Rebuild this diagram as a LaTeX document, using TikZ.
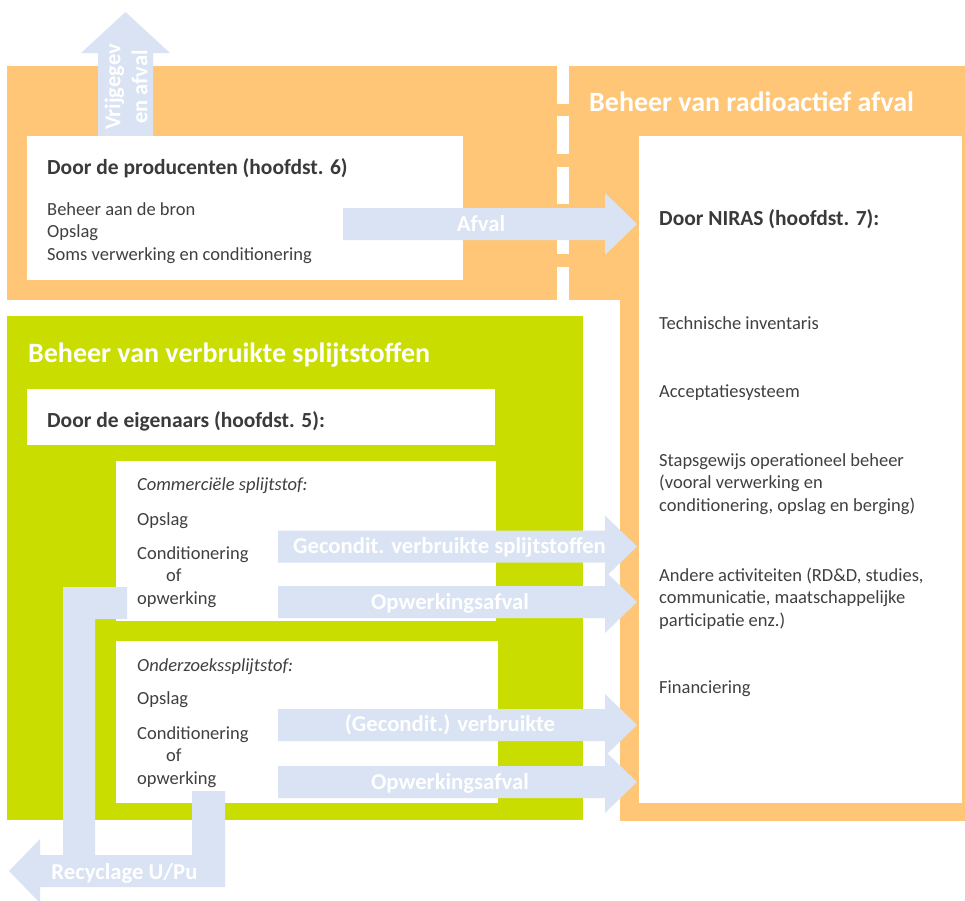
\documentclass[tikz,border=0pt]{standalone}
\usepackage{fontspec}
\setmainfont{Carlito}
\usetikzlibrary{calc}
\definecolor{orangebg}{RGB}{254,198,118}
\definecolor{greenbg}{RGB}{201,221,0}
\definecolor{arrowblue}{RGB}{218,227,243}
\definecolor{txtgray}{RGB}{64,64,64}
\definecolor{headgray}{RGB}{58,58,58}
\newcommand\blockarrowR[2]{%
  \fill[blockfill] let \p1=(#1), \p2=(#2) in
    (\x1,\y1+16pt) -- (\x2-32pt,\y1+16pt) -- (\x2-32pt,\y1+31pt) -- (\x2,\y1)
    -- (\x2-32pt,\y1-31pt) -- (\x2-32pt,\y1-16pt) -- (\x1,\y1-16pt) -- cycle;}
\tikzset{
  box/.style={fill=white, inner sep=0pt, anchor=north west},
  blockfill/.style={fill=arrowblue},
  bodytxt/.style={font=\fontsize{18.5}{22.5}\selectfont, text=txtgray, inner sep=0pt, anchor=base west},
  itbodytxt/.style={bodytxt, font=\fontsize{18.5}{22.5}\selectfont\itshape},
  headtxt/.style={font=\fontsize{21.5}{26}\selectfont\bfseries, text=headgray, inner sep=0pt, anchor=base west},
  titletxt/.style={font=\fontsize{28}{34}\selectfont\bfseries, text=white, inner sep=0pt, anchor=base west},
  labeltxt/.style={font=\fontsize{22.7}{27}\selectfont\bfseries, text=white, inner sep=0pt, anchor=base},
}
\begin{document}
\begin{tikzpicture}[x=1pt,y=-1pt]
\useasboundingbox (0,0) rectangle (965,900);
% background regions
\fill[orangebg] (7,66) rectangle (965,300);
\fill[orangebg] (620,66) rectangle (965,821);
\coordinate (sepTop) at (563,66);
\coordinate (sepBot) at (563,300);
\draw[white, line width=12pt, dash pattern=on 37.5pt off 12.8pt] (sepTop) -- (sepBot);
\fill[greenbg] (7,316) rectangle (583,820);

% upward arrow (vrijgegeven afval)
\coordinate (upS) at (125.5,136);
\coordinate (upT) at (125.5,12);
\fill[blockfill] let \p1=(upS), \p2=(upT) in
  (\x1-27.5pt,\y1) -- (\x1-27.5pt,\y2-41pt) -- (\x1-44.5pt,\y2-41pt) -- (\x2,\y2)
  -- (\x1+44.5pt,\y2-41pt) -- (\x1+27.5pt,\y2-41pt) -- (\x1+27.5pt,\y1) -- cycle;

% white boxes
\node[box, minimum width=436pt, minimum height=144pt] (prodbox) at (27,136) {};
\node[box, minimum width=323pt, minimum height=667pt] (nirasbox) at (639,136) {};
\node[box, minimum width=468pt, minimum height=56pt] (eigbox) at (27,389) {};
\node[box, minimum width=380pt, minimum height=160pt] (combox) at (116,461) {};
\node[box, minimum width=382pt, minimum height=162pt] (ondbox) at (116,641) {};

% horizontal block arrows
\coordinate (afS) at (343,224);  \coordinate (afT) at (637,224);
\coordinate (g1S) at (278,546.5); \coordinate (g1T) at (637,546.5);
\coordinate (o1S) at (278,602);  \coordinate (o1T) at (637,602);
\coordinate (g2S) at (278,725);  \coordinate (g2T) at (637,725);
\coordinate (o2S) at (278,782);  \coordinate (o2T) at (637,782);
\blockarrowR{afS}{afT}
\blockarrowR{g1S}{g1T}
\blockarrowR{o1S}{o1T}
\blockarrowR{g2S}{g2T}
\blockarrowR{o2S}{o2T}

% recycling arrow
\coordinate (recA) at (127,603);
\coordinate (recB) at (208.5,791);
\coordinate (recT) at (9,871);
\fill[blockfill] (127,587) -- (63,587) -- (63,855) -- (40,855) -- (40,839) -- (recT)
  -- (40,903) -- (40,887) -- (225,887) -- (225,791) -- (192,791) -- (192,855)
  -- (95,855) -- (95,619) -- (127,619) -- cycle;

% titles
\node[titletxt] (t1) at (589,111) {Beheer van radioactief afval};
\node[titletxt] (t2) at (28,362) {Beheer van verbruikte splijtstoffen};

% producenten
\node[headtxt] (h1) at (47,174) {Door de producenten (hoofdst. 6)};
\node[bodytxt] (p1) at (47,215) {Beheer aan de bron};
\node[bodytxt] (p2) at (47,237.5) {Opslag};
\node[bodytxt] (p3) at (47,260) {Soms verwerking en conditionering};

% NIRAS
\node[headtxt] (h2) at (659,225) {Door NIRAS (hoofdst. 7):};
\node[bodytxt] (n1) at (659,329) {Technische inventaris};
\node[bodytxt] (n2) at (659,397) {Acceptatiesysteem};
\node[bodytxt] (n3a) at (659,466) {Stapsgewijs operationeel beheer};
\node[bodytxt] (n3b) at (659,488.5) {(vooral verwerking en};
\node[bodytxt] (n3c) at (659,511) {conditionering, opslag en berging)};
\node[bodytxt] (n4a) at (659,581) {Andere activiteiten (RD\&D, studies,};
\node[bodytxt] (n4b) at (659,603.5) {communicatie, maatschappelijke};
\node[bodytxt] (n4c) at (659,626) {participatie enz.)};
\node[bodytxt] (n5) at (659,693) {Financiering};

% eigenaars
\node[headtxt] (h3) at (47,427) {Door de eigenaars (hoofdst. 5):};
\node[itbodytxt] (c0) at (137,490) {Commerciële splijtstof:};
\node[bodytxt] (c1) at (137,525) {Opslag};
\node[bodytxt] (c2) at (137,559) {Conditionering};
\node[bodytxt] (c3) at (166,581.5) {of};
\node[bodytxt] (c4) at (137,604) {opwerking};
\node[itbodytxt] (r0) at (137,671) {Onderzoekssplijtstof:};
\node[bodytxt] (r1) at (137,704) {Opslag};
\node[bodytxt] (r2) at (137,739) {Conditionering};
\node[bodytxt] (r3) at (166,761.5) {of};
\node[bodytxt] (r4) at (137,784) {opwerking};

% arrow labels
\node[labeltxt] (lafval) at (481,231) {Afval};
\node[labeltxt] (lg1) at (449.5,553.5) {Gecondit. verbruikte splijtstoffen};
\node[labeltxt] (lo1) at (450,609) {Opwerkingsafval};
\node[labeltxt] (lg2) at (450,731.5) {(Gecondit.) verbruikte};
\node[labeltxt] (lo2) at (450,789) {Opwerkingsafval};
\node[labeltxt] (lrec) at (124.5,879) {Recyclage U/Pu};
\node[font=\fontsize{22.5}{27}\selectfont\bfseries, text=white, rotate=90, align=center, inner sep=0pt] (vrij) at (126,87) {Vrijgegev\\en afval};
\end{tikzpicture}
\end{document}
